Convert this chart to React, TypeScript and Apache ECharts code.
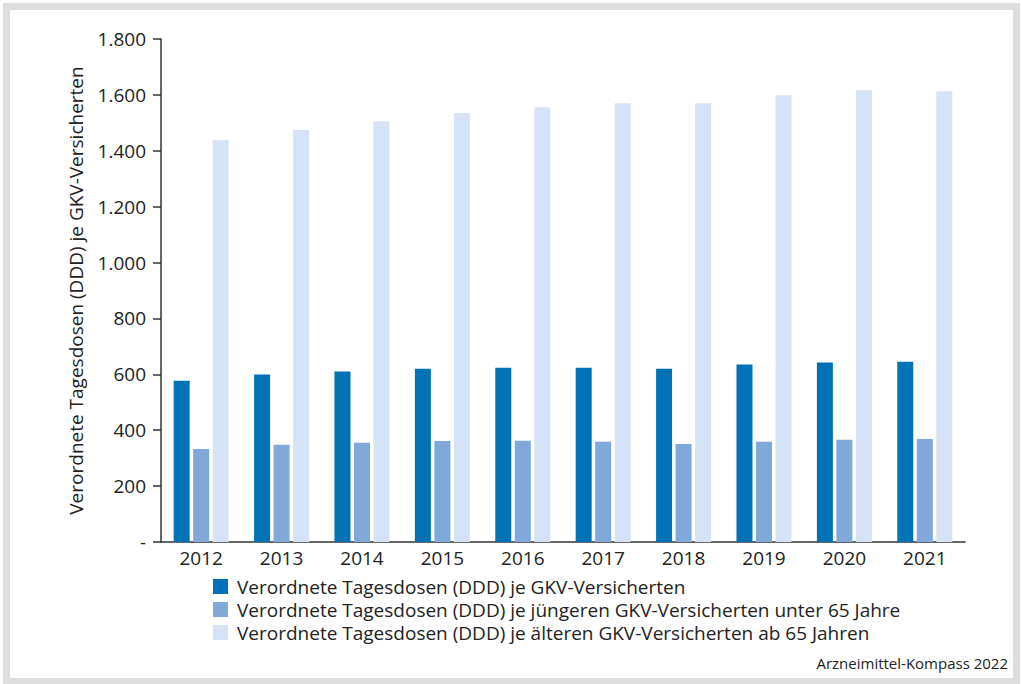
import React, { useEffect, useRef } from "react";
import * as echarts from "echarts";

const years = ["2012", "2013", "2014", "2015", "2016", "2017", "2018", "2019", "2020", "2021"];
const allInsured = [577, 599, 610, 620, 624, 624, 620, 635, 642, 645];
const youngerUnder65 = [333, 348, 355, 361, 362, 359, 351, 359, 366, 369];
const olderFrom65 = [1438, 1474, 1506, 1535, 1556, 1570, 1570, 1599, 1617, 1613];
const seriesNames = [
  "Verordnete Tagesdosen (DDD) je GKV-Versicherten",
  "Verordnete Tagesdosen (DDD) je jüngeren GKV-Versicherten unter 65 Jahre",
  "Verordnete Tagesdosen (DDD) je älteren GKV-Versicherten ab 65 Jahren",
];
const colors = ["#0072b5", "#80a8d9", "#d6e2f5"];
const FONT = "Open Sans";

export default function App() {
  const ref = useRef<HTMLDivElement>(null);
  useEffect(() => {
    document.body.style.margin = "0";
    const chart = echarts.init(ref.current!, null, { renderer: "svg" });
    const fmt = (v: number) =>
      v === 0 ? "-" : v.toString().replace(/\B(?=(\d{3})+(?!\d))/g, ".");
    const datasets = [allInsured, youngerUnder65, olderFrom65];
    chart.setOption({
      animation: false,
      backgroundColor: "#ffffff",
      textStyle: { fontFamily: FONT },
      grid: { left: 161, right: 56, top: 39, bottom: 142 },
      legend: {
        orient: "vertical",
        left: 213,
        top: 577,
        padding: 0,
        itemWidth: 15,
        itemHeight: 15,
        itemGap: 4,
        icon: "rect",
        textStyle: { fontSize: 19, color: "#222", fontFamily: FONT, padding: [0, 0, 0, 4] },
        data: seriesNames,
      },
      xAxis: {
        type: "category",
        data: years,
        axisLine: { lineStyle: { color: "#333", width: 1.5 } },
        axisTick: { show: false },
        axisLabel: { fontSize: 19, color: "#222", margin: 6, fontFamily: FONT },
      },
      yAxis: {
        type: "value",
        min: 0,
        max: 1800,
        interval: 200,
        name: seriesNames[0],
        nameLocation: "middle",
        nameGap: 76,
        nameTextStyle: { fontSize: 19, color: "#222", fontFamily: FONT },
        splitLine: { show: false },
        axisLine: { show: true, lineStyle: { color: "#333", width: 1.5 } },
        axisTick: { show: true, length: 8, lineStyle: { color: "#333", width: 1.5 } },
        axisLabel: {
          fontSize: 19,
          color: "#222",
          margin: 15,
          fontFamily: FONT,
          formatter: fmt,
        },
      },
      series: datasets.map((d, i) => ({
        type: "bar",
        name: seriesNames[i],
        data: d,
        barWidth: 16,
        barGap: "22%",
        itemStyle: { color: colors[i] },
      })),
      graphic: [
        {
          type: "text",
          right: 13,
          top: 655,
          style: {
            text: "Arzneimittel-Kompass 2022",
            fontSize: 15,
            fill: "#222",
            fontFamily: FONT,
          },
        },
      ],
    });
    return () => chart.dispose();
  }, []);
  return (
    <div style={{ position: "relative", width: 1021, height: 684, background: "#fff" }}>
      <div ref={ref} style={{ position: "absolute", left: 0, top: 0, width: 1021, height: 684 }} />
      <div
        style={{
          position: "absolute",
          left: 3,
          top: 3,
          width: 1003,
          height: 668,
          border: "7px solid #dddddd",
          pointerEvents: "none",
        }}
      />
    </div>
  );
}
